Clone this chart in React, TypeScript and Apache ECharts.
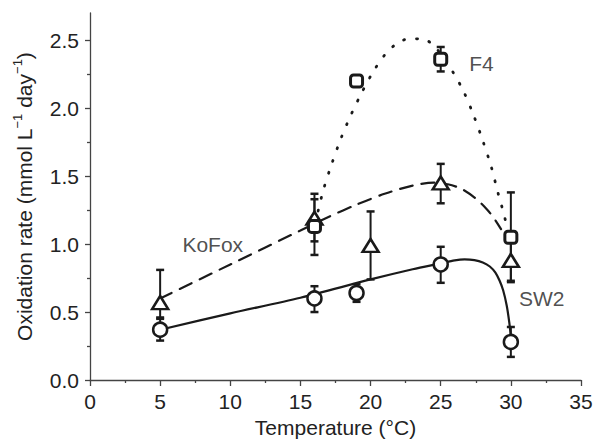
import React, { useEffect, useRef } from "react";
import * as echarts from "echarts";

// ---- axis ticks ----
const yMajorTicks = [0, 0.5, 1, 1.5, 2, 2.5];
const yMinorTicks = [0.25, 0.75, 1.25, 1.75, 2.25];

// ---- measured data (temperature °C, rate, error low, error high) ----
const tempSW2 = [5, 16, 19, 25, 30];
const rateSW2 = [0.37, 0.6, 0.64, 0.85, 0.28];
const lowSW2 = [0.29, 0.5, 0.575, 0.715, 0.17];
const highSW2 = [0.46, 0.69, 0.705, 0.98, 0.39];

const tempKoFox = [5, 16, 20, 25, 30];
const rateKoFox = [0.57, 1.19, 0.99, 1.45, 0.88];
const lowKoFox = [0.45, 1.02, 0.74, 1.3, 0.73];
const highKoFox = [0.81, 1.37, 1.24, 1.59, 1.03];

const tempF4 = [16, 19, 25, 30];
const rateF4 = [1.13, 2.2, 2.36, 1.05];
const lowF4 = [0.92, 2.2, 2.27, 0.72];
const highF4 = [1.33, 2.2, 2.45, 1.38];

// ---- fitted curves ----
const fitSW2: [number, number][] = [
  [5, 0.37], [10, 0.49], [15, 0.605], [20, 0.74], [23, 0.815], [25, 0.858],
  [26, 0.88], [26.7, 0.887], [27.4, 0.882], [28, 0.865], [28.5, 0.835],
  [28.9, 0.79], [29.2, 0.73], [29.45, 0.66], [29.7, 0.55], [29.88, 0.43],
  [30, 0.32],
];
const fitKoFox: [number, number][] = [
  [5, 0.6], [10, 0.85], [15, 1.1], [17, 1.2], [19, 1.29], [21, 1.37],
  [23, 1.43], [24.5, 1.452], [25.5, 1.44], [26.5, 1.405], [27.5, 1.335],
  [28.3, 1.255], [28.8, 1.19], [29.3, 1.11],
];
const fitF4: [number, number][] = [
  [16.05, 1.15], [16.6, 1.385], [17.2, 1.58], [17.9, 1.78], [18.6, 1.95],
  [19.4, 2.12], [20.2, 2.27], [21, 2.39], [21.8, 2.47], [22.7, 2.51],
  [23.7, 2.51], [24.6, 2.45], [25.3, 2.35], [25.9, 2.26], [26.6, 2.13],
  [27.3, 1.96], [28.0, 1.76], [28.6, 1.57], [29.1, 1.37], [29.4, 1.26],
  [29.65, 1.16],
];

// ---- curve labels (data coordinates) ----
const curveLabels = [
  { name: "F4", value: [27.9, 2.33] },
  { name: "KoFox", value: [8.75, 1.0] },
  { name: "SW2", value: [32.2, 0.6] },
];

const INK = "#1a1a1a";
const AXIS = "#444";
const TEXT = "#222";
const FONT = "Liberation Sans, Arial, Helvetica, sans-serif";

function errorBars(xs: number[], lows: number[], highs: number[]) {
  return {
    type: "custom",
    xAxisIndex: 0,
    yAxisIndex: 0,
    silent: true,
    z: 3,
    data: xs.map((x, i) => [x, lows[i], highs[i]]),
    renderItem: (_p: any, api: any) => {
      const x = api.value(0);
      const lo = api.value(1);
      const hi = api.value(2);
      if (hi - lo < 1e-9) return { type: "group", children: [] };
      const a = api.coord([x, lo]);
      const b = api.coord([x, hi]);
      const w = 4;
      const st = { stroke: INK, lineWidth: 2 };
      const cap = { stroke: INK, lineWidth: 2.5 };
      return {
        type: "group",
        children: [
          { type: "line", shape: { x1: a[0], y1: a[1], x2: b[0], y2: b[1] }, style: st },
          { type: "line", shape: { x1: a[0] - w, y1: a[1], x2: a[0] + w, y2: a[1] }, style: cap },
          { type: "line", shape: { x1: b[0] - w, y1: b[1], x2: b[0] + w, y2: b[1] }, style: cap },
        ],
      };
    },
  };
}

function markers(xs: number[], ys: number[], symbol: string, size: any, bw: number) {
  return {
    type: "scatter",
    xAxisIndex: 0,
    yAxisIndex: 0,
    symbol,
    symbolSize: size,
    z: 5,
    silent: true,
    itemStyle: { color: "#fff", borderColor: INK, borderWidth: bw, opacity: 1 },
    data: xs.map((x, i) => [x, ys[i]]),
  };
}

function fitLine(points: [number, number][], width: number, type: any) {
  return {
    type: "line",
    xAxisIndex: 0,
    yAxisIndex: 0,
    data: points,
    showSymbol: false,
    symbol: "none",
    smooth: 0.3,
    silent: true,
    z: 1,
    lineStyle: { color: INK, width, type, cap: "round" },
  };
}

export default function App() {
  const ref = useRef<HTMLDivElement>(null);
  useEffect(() => {
    const chart = echarts.init(ref.current!, null, { renderer: "svg" });
    const option: any = {
      animation: false,
      backgroundColor: "#fff",
      textStyle: { fontFamily: FONT, color: TEXT },
      grid: { left: 90, right: 15, top: 13, bottom: 62, containLabel: false, outerBoundsMode: "none" },
      xAxis: {
        type: "value",
        min: 0,
        max: 35,
        interval: 5,
        axisLine: { show: true, lineStyle: { color: AXIS, width: 1.3 } },
        axisTick: { show: true, length: 6, lineStyle: { color: AXIS, width: 1.3 } },
        minorTick: { show: true, splitNumber: 2, length: 3, lineStyle: { color: AXIS, width: 1.3 } },
        splitLine: { show: false },
        minorSplitLine: { show: false },
        axisLabel: { fontSize: 21, color: TEXT, margin: 11, fontFamily: FONT },
        name: "Temperature (°C)",
        nameLocation: "middle",
        nameGap: 36,
        nameTextStyle: { fontSize: 21, color: TEXT, fontFamily: FONT },
      },
      yAxis: [
        {
          type: "value",
          min: 0,
          max: 2.7,
          position: "left",
          axisLine: { show: true, lineStyle: { color: AXIS, width: 1.3 } },
          axisTick: { show: true, length: 5, customValues: yMajorTicks, lineStyle: { color: AXIS, width: 1.3 } },
          axisLabel: {
            fontSize: 21,
            color: TEXT,
            margin: 11,
            fontFamily: FONT,
            customValues: yMajorTicks,
            formatter: (v: number) => v.toFixed(1),
          },
          splitLine: { show: false },
          name: "{a|Oxidation rate (mmol L}{sup|−1}{a| day}{sup|−1}{a|)}",
          nameLocation: "middle",
          nameGap: 52,
          nameTextStyle: {
            fontSize: 21,
            color: TEXT,
            fontFamily: FONT,
            rich: {
              a: { fontSize: 21, color: TEXT, fontFamily: FONT },
              sup: { fontSize: 13, color: TEXT, fontFamily: FONT, padding: [0, 0, 14, 0] },
            },
          },
        },
        {
          type: "value",
          min: 0,
          max: 2.7,
          position: "left",
          axisLine: { show: false },
          axisTick: { show: true, length: 3, customValues: yMinorTicks, lineStyle: { color: AXIS, width: 1.3 } },
          axisLabel: { show: false },
          splitLine: { show: false },
        },
      ],
      series: [
        fitLine(fitSW2, 2.2, "solid"),
        fitLine(fitKoFox, 2.2, [13, 9]),
        fitLine(fitF4, 2.8, [1, 12]),
        errorBars(tempSW2, lowSW2, highSW2),
        errorBars(tempKoFox, lowKoFox, highKoFox),
        errorBars(tempF4, lowF4, highF4),
        markers(tempSW2, rateSW2, "circle", 14, 2.5),
        markers(tempKoFox, rateKoFox, "triangle", [16, 13], 2.5),
        markers(tempF4, rateF4, "roundRect", 12, 3),
        {
          type: "scatter",
          xAxisIndex: 0,
          yAxisIndex: 0,
          symbolSize: 0,
          silent: true,
          z: 6,
          data: curveLabels,
          label: {
            show: true,
            position: "inside",
            formatter: "{b}",
            fontSize: 21,
            color: TEXT,
            fontFamily: FONT,
          },
        },
      ],
    };
    chart.setOption(option);
    return () => chart.dispose();
  }, []);
  return (
    <div
      ref={ref}
      style={{ position: "absolute", left: 0, top: 0, width: 596, height: 442 }}
    />
  );
}
